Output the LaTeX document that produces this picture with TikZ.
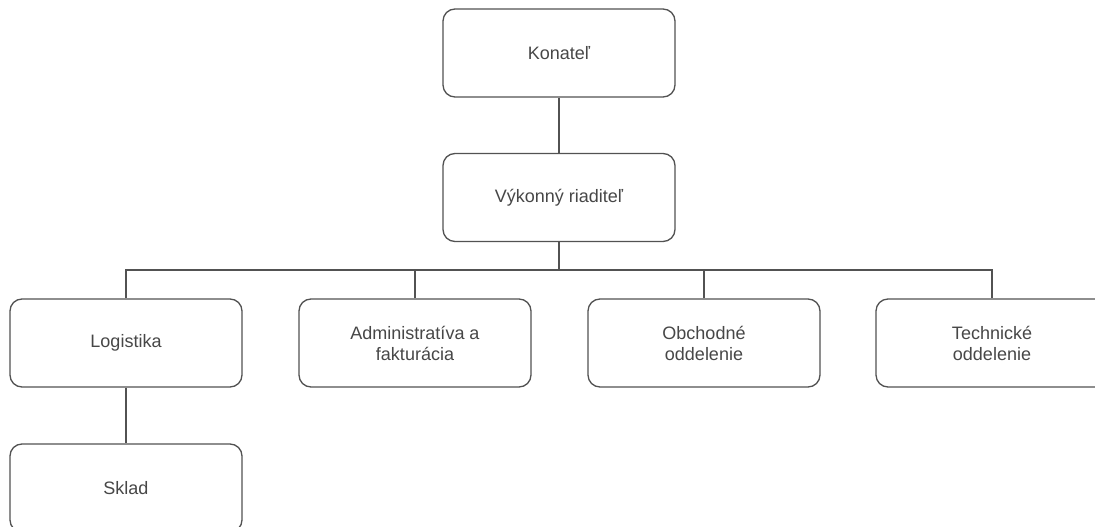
\documentclass[tikz,border=0pt]{standalone}
\usepackage{fontspec}
\setmainfont{Liberation Sans}
\begin{document}
\begin{tikzpicture}[x=1pt,y=-1pt,
  orgbox/.style={draw=black!68, line width=1.3pt, rounded corners=12pt, fill=white,
    minimum width=232pt, minimum height=88pt, align=center, inner sep=0pt,
    font=\fontsize{18}{21}\selectfont, text=black!72},
  link/.style={draw=black!68, line width=1.3pt}]
\useasboundingbox (0,0) rectangle (1095,527);
\clip (0,0) rectangle (1095,527);
\fill[white] (0,0) rectangle (1095,527);
\node[orgbox] (kon) at (559,53) {Konateľ};
\node[orgbox] (vyk) at (559,197.5) {Výkonný riaditeľ};
\node[orgbox] (log) at (126,343) {Logistika};
\node[orgbox] (adm) at (415,343) {Administratíva a\\fakturácia};
\node[orgbox] (obc) at (704,343) {Obchodné\\oddelenie};
\node[orgbox] (tec) at (992,343) {Technické\\oddelenie};
\node[orgbox] (skl) at (126,488) {Sklad};
\coordinate (bus) at (559,270);
\draw[link] (kon.south) -- (vyk.north);
\draw[link] (vyk.south) -- (bus);
\draw[link] (log.north) -- (log.north |- bus) -- (tec.north |- bus) -- (tec.north);
\draw[link] (adm.north) -- (adm.north |- bus);
\draw[link] (obc.north) -- (obc.north |- bus);
\draw[link] (log.south) -- (skl.north);
\end{tikzpicture}
\end{document}
